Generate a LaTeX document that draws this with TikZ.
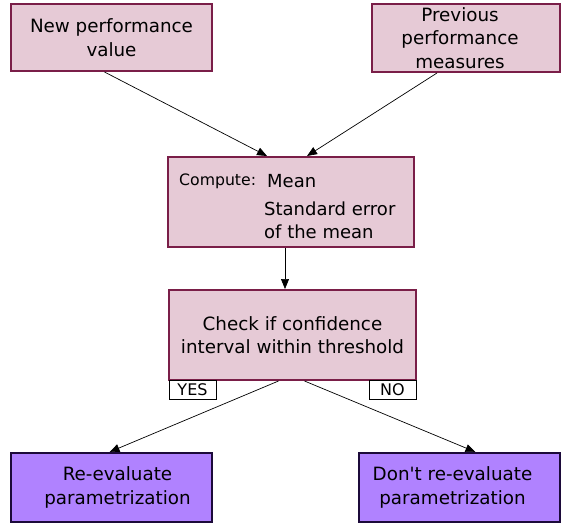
\documentclass[tikz,border=0pt]{standalone}
\usepackage{fontspec}
\setmainfont{DejaVu Sans}
\usetikzlibrary{arrows.meta,calc}
\definecolor{pinkfill}{RGB}{230,202,214}
\definecolor{pinkline}{RGB}{122,30,72}
\definecolor{violetfill}{RGB}{176,130,255}
\definecolor{violetline}{RGB}{28,10,58}
\begin{document}
\begin{tikzpicture}[x=1pt,y=-1pt,
  boxtext/.style={align=center,inner sep=0pt,font=\fontsize{18.3}{23.5}\selectfont},
  pinkbox/.style={draw=pinkline,fill=pinkfill,line width=2pt,boxtext},
  violetbox/.style={draw=violetline,fill=violetfill,line width=2pt,boxtext},
  tagbox/.style={draw=black,fill=white,line width=0.8pt,inner sep=0pt,
    minimum width=47pt,minimum height=19pt,font=\fontsize{16}{16}\selectfont},
  flow/.style={draw=black,line width=0.7pt,-{Triangle[length=10pt,width=8pt]}},
  txt/.style={inner sep=0pt,anchor=base west}]
\useasboundingbox (0,0) rectangle (562,527);

% inputs
\node[pinkbox,minimum width=201pt,minimum height=67pt] (new) at (111.5,37.5)
  {New performance\\value};
\node[pinkbox,minimum width=188pt,minimum height=68pt] (prev) at (466,38) {};
\node[boxtext] (prevT) at ($(prev)+(-6,0)$) {Previous\\performance\\measures};

% statistics step
\node[pinkbox,minimum width=246pt,minimum height=90pt] (comp) at (291,202) {};
\node[txt,font=\fontsize{15.7}{15.7}\selectfont] (lbl) at (179,185) {Compute:};
\node[txt,font=\fontsize{18}{18}\selectfont] (mean) at (267,187) {Mean};
\node[txt,font=\fontsize{18}{18}\selectfont] (sem) at (264,215) {Standard error};
\node[txt,font=\fontsize{18}{18}\selectfont] (sem2) at (264,238) {of the mean};

% decision
\node[pinkbox,minimum width=247pt,minimum height=90pt] (check) at (292.5,335)
  {Check if confidence\\interval within threshold};
\node[tagbox] (yes) at (192.5,389.5) {YES};
\node[tagbox] (no) at (392.5,389.5) {NO};

% outcomes
\node[violetbox,minimum width=201pt,minimum height=69pt] (reeval) at (111.5,487.5) {};
\node[boxtext] (reevalT) at ($(reeval)+(6,0)$) {Re-evaluate\\parametrization};
\node[violetbox,minimum width=201pt,minimum height=69pt] (keep) at (459.5,487.5) {};
\node[boxtext] (keepT) at ($(keep)+(-7,0)$) {Don\textquotesingle t re-evaluate\\parametrization};

\draw[flow] ($(new.south)+(-7,0)$) -- ($(comp.north)+(-24,0)$);
\draw[flow] ($(prev.south)+(-29,0)$) -- ($(comp.north)+(16,0)$);
\draw[flow] ($(comp.south)+(-6,0)$) -- ($(check.north)+(-7.5,0)$);
\draw[flow] ($(check.south)+(-14,0)$) -- ($(reeval.north)+(-2,0)$);
\draw[flow] ($(check.south)+(12,0)$) -- ($(keep.north)+(16,0)$);
\end{tikzpicture}
\end{document}
